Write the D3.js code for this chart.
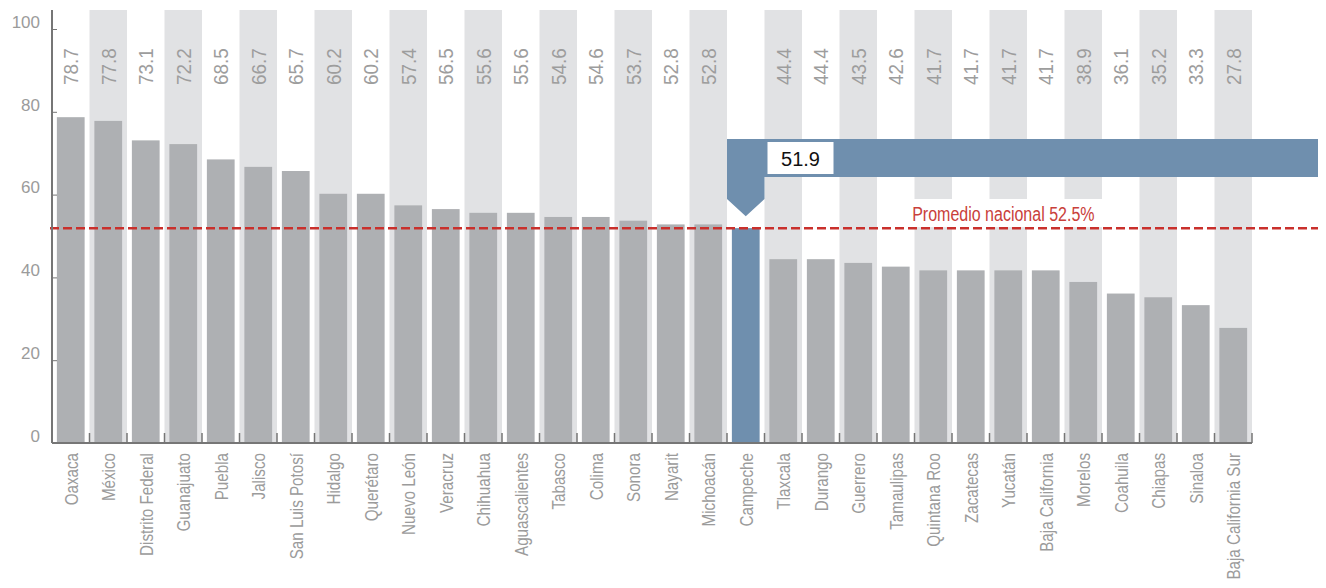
<!DOCTYPE html>
<html>
<head>
<meta charset="utf-8">
<script src="https://cdn.jsdelivr.net/npm/d3@7"></script>
<style>
  body { margin: 0; background: #fff; }
  svg text { font-family: "Liberation Sans", Arial, sans-serif; }
  .axis path, .axis line { stroke: #767676; }
  .axis text { fill: #9b9b9b; font-size: 17px; }
</style>
</head>
<body>
<div id="chart"></div>
<script>
var width = 1326, height = 588;
var margin = {left: 52, right: 74, top: 10, bottom: 145};

// estados, ordenados como en la imagen
var estados = ['Oaxaca', 'México', 'Distrito Federal', 'Guanajuato', 'Puebla', 'Jalisco',
  'San Luis Potosí', 'Hidalgo', 'Querétaro', 'Nuevo León', 'Veracruz', 'Chihuahua',
  'Aguascalientes', 'Tabasco', 'Colima', 'Sonora', 'Nayarit', 'Michoacán', 'Campeche',
  'Tlaxcala', 'Durango', 'Guerrero', 'Tamaulipas', 'Quintana Roo', 'Zacatecas', 'Yucatán',
  'Baja California', 'Morelos', 'Coahuila', 'Chiapas', 'Sinaloa', 'Baja California Sur'];
var valores = [78.7, 77.8, 73.1, 72.2, 68.5, 66.7, 65.7, 60.2, 60.2, 57.4, 56.5, 55.6,
  55.6, 54.6, 54.6, 53.7, 52.8, 52.8, 51.9, 44.4, 44.4, 43.5, 42.6, 41.7, 41.7, 41.7,
  41.7, 38.9, 36.1, 35.2, 33.3, 27.8];
var yTicks = [0, 20, 40, 60, 80, 100];
var destacado = 'Campeche';
var lineaPromedio = 51.9;
var textoPromedio = 'Promedio nacional 52.5%';

var data = estados.map(function (d, i) {
  return {estado: d, valor: valores[i], i: i};
});

var svg = d3.select('#chart')
  .append('svg')
  .attr('width', width)
  .attr('height', height);

var xScale = d3.scaleBand()
  .domain(estados)
  .range([margin.left, width - margin.right])
  .padding(0);

var yScale = d3.scaleLinear()
  .domain([0, 100])
  .range([height - margin.bottom, 29]);

var step = xScale.step();
var barW = step * 0.74;
var baseY = yScale(0);

// bandas grises de fondo (columnas impares)
svg.selectAll('.band')
  .data(data.filter(function (d) { return d.i % 2 == 1; }))
  .enter()
  .append('rect')
  .attr('class', 'band')
  .attr('x', function (d) { return xScale(d.estado); })
  .attr('y', margin.top)
  .attr('width', step)
  .attr('height', baseY - margin.top)
  .attr('fill', '#e1e2e4');

// barras
svg.selectAll('.bar')
  .data(data)
  .enter()
  .append('rect')
  .attr('class', 'bar')
  .attr('x', function (d) { return xScale(d.estado) + (step - barW) / 2; })
  .attr('y', function (d) { return yScale(d.valor); })
  .attr('width', barW)
  .attr('height', function (d) { return baseY - yScale(d.valor); })
  .attr('fill', function (d) { return d.estado == destacado ? '#6f8fae' : '#aeb0b3'; });

// valores arriba (texto algo condensado)
svg.selectAll('.val')
  .data(data.filter(function (d) { return d.estado != destacado; }))
  .enter()
  .append('text')
  .attr('class', 'val')
  .attr('transform', function (d) {
    return 'translate(' + (xScale(d.estado) + step / 2) + ',85) rotate(-90) scale(0.9,1)';
  })
  .attr('dy', '0.36em')
  .attr('fill', '#9d9d9d')
  .style('font-size', '21px')
  .text(function (d) { return d.valor.toFixed(1); });

// etiqueta del promedio con fondo blanco
var hd = data.filter(function (d) { return d.estado == destacado; })[0];
var hx = xScale(hd.estado);
var lineY = yScale(lineaPromedio);

svg.append('rect')
  .attr('x', hx + step * 4.2)
  .attr('y', 199)
  .attr('width', step * 6)
  .attr('height', lineY - 200)
  .attr('fill', '#fff');

svg.append('text')
  .attr('transform', 'translate(' + (hx + step * 9.8) + ',' + (lineY - 7) + ') scale(0.8,1)')
  .attr('text-anchor', 'end')
  .attr('fill', '#c9403a')
  .style('font-size', '20px')
  .text(textoPromedio);

// linea punteada
svg.append('line')
  .attr('x1', margin.left - 2)
  .attr('x2', width - 8)
  .attr('y1', lineY)
  .attr('y2', lineY)
  .attr('stroke', '#c9302c')
  .attr('stroke-width', 2.5)
  .attr('stroke-dasharray', '9,4');

// banner azul con flecha
var bTop = 139, bBot = 177, arrowY = 199, tipY = lineY - 12;
svg.append('path')
  .attr('d', 'M' + hx + ',' + bTop +
    'L' + (width - 8) + ',' + bTop +
    'L' + (width - 8) + ',' + bBot +
    'L' + (hx + step) + ',' + bBot +
    'L' + (hx + step) + ',' + arrowY +
    'L' + (hx + step / 2) + ',' + tipY +
    'L' + hx + ',' + arrowY + 'Z')
  .attr('fill', '#6f8fae');

svg.append('rect')
  .attr('x', hx + step + 3)
  .attr('y', bTop + 3)
  .attr('width', 66)
  .attr('height', bBot - bTop - 6)
  .attr('fill', '#fff');

svg.append('text')
  .attr('x', hx + step + 36)
  .attr('y', bBot - 11)
  .attr('text-anchor', 'middle')
  .attr('fill', '#111')
  .style('font-size', '20px')
  .text(hd.valor.toFixed(1));

// eje y
var yAxis = d3.axisLeft(yScale)
  .tickValues(yTicks)
  .tickSizeInner(-5)
  .tickSizeOuter(0)
  .tickPadding(12);

var yAxisG = svg.append('g')
  .attr('class', 'axis')
  .attr('transform', 'translate(' + margin.left + ',0)')
  .call(yAxis);
yAxisG.select('.domain').remove();
yAxisG.selectAll('text').attr('dy', '-0.1em');
yAxisG.append('line')
  .attr('y1', margin.top)
  .attr('y2', baseY)
  .attr('stroke', '#767676')
  .attr('stroke-width', 2);

// eje x
var xAxisG = svg.append('g')
  .attr('class', 'axis')
  .attr('transform', 'translate(0,' + baseY + ')');

xAxisG.append('line')
  .attr('x1', margin.left)
  .attr('x2', width - margin.right)
  .attr('stroke', '#767676')
  .attr('stroke-width', 2);

xAxisG.selectAll('.tk')
  .data(estados.slice(1).concat(['__fin']))
  .enter()
  .append('line')
  .attr('class', 'tk')
  .attr('x1', function (d) { return d == '__fin' ? width - margin.right : xScale(d); })
  .attr('x2', function (d) { return d == '__fin' ? width - margin.right : xScale(d); })
  .attr('y1', 0)
  .attr('y2', -10)
  .attr('stroke', '#767676')
  .attr('stroke-width', 1.5);

xAxisG.selectAll('.cat')
  .data(data)
  .enter()
  .append('text')
  .attr('class', 'cat')
  .attr('transform', function (d) {
    return 'translate(' + (xScale(d.estado) + step / 2) + ',10) rotate(-90) scale(0.8,1)';
  })
  .attr('dy', '0.36em')
  .attr('text-anchor', 'end')
  .attr('fill', function (d) { return d.estado == destacado ? '#111' : '#9b9b9b'; })
  .style('font-size', '19px')
  .text(function (d) { return d.estado; });
</script>
</body>
</html>
